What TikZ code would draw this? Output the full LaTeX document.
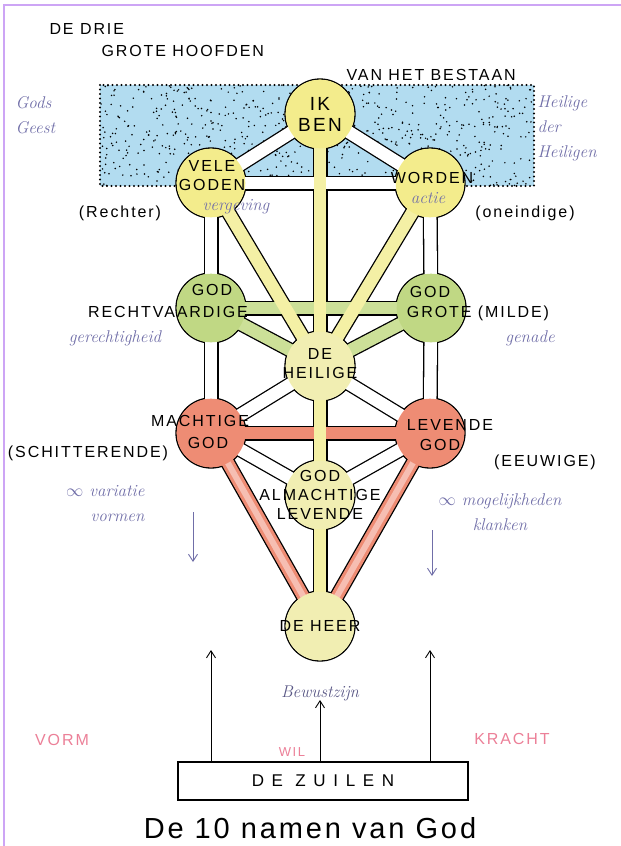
\documentclass[tikz,border=0pt]{standalone}
\usepackage{fontspec}
\usepackage{xcolor}
\usepackage{tikz}
\usetikzlibrary{arrows.meta,positioning,calc}

\newfontfamily\capsfont[LetterSpace=12]{Liberation Sans}
\newfontfamily\wijdfont[LetterSpace=45]{Liberation Sans}
\newfontfamily\titelfont[LetterSpace=10]{Liberation Sans}

\definecolor{sefyel}{RGB}{243,236,140}
\definecolor{sefpale}{RGB}{241,238,178}
\definecolor{sefgrn}{RGB}{192,216,132}
\definecolor{sefred}{RGB}{238,140,116}
\definecolor{pipeyel}{RGB}{244,240,165}
\definecolor{pipegrn}{RGB}{204,224,152}
\definecolor{pipered}{RGB}{238,140,116}
\definecolor{pipepink}{RGB}{246,190,178}
\definecolor{blueback}{RGB}{178,220,240}
\definecolor{inkblue}{RGB}{112,110,168}
\definecolor{pinklab}{RGB}{236,128,152}
\definecolor{framecol}{RGB}{205,165,245}

\begin{document}
\begin{tikzpicture}[x=1pt,y=-1pt,
  caps/.style={font=\capsfont\fontsize{16}{19}\selectfont},
  hand/.style={font=\itshape\fontsize{17}{25}\selectfont,text=inkblue},
  pinktxt/.style={font=\capsfont\fontsize{16}{18}\selectfont,text=pinklab},
  sefira/.style={circle,minimum size=70pt,inner sep=0pt},
  arr/.style={-{Straight Barb[length=7pt,width=9pt]},line width=0.9pt}]
  \useasboundingbox (0,0) rectangle (621,846);
  \fill[white] (0,0) rectangle (621,846);
  \draw[framecol,line width=1.5pt] (4,846) -- (4,5) -- (621,5);

  % blauw veld achter de drie hoofden
  \fill[blueback] (100,85) rectangle (534,186);
  \pgfmathsetseed{11}
  \foreach \i in {1,...,650}
    \fill ({100+434*rnd},{85+101*rnd}) circle (0.85);
  \draw[line width=2.2pt,dash pattern=on 0pt off 4.5pt,line cap=round] (100,85) rectangle (534,186);

  \node[sefira] (ikben) at (320,114) {};
  \node[sefira] (vele) at (211,183) {};
  \node[sefira] (worden) at (430,183) {};
  \node[sefira] (recht) at (211,308) {};
  \node[sefira] (grote) at (431,308) {};
  \node[sefira] (heilige) at (320,366) {};
  \node[sefira] (machtige) at (211,433) {};
  \node[sefira] (levende) at (430,433) {};
  \node[sefira] (almacht) at (320,495) {};
  \node[sefira] (heer) at (320,626) {};

  \foreach \a/\b in {ikben/vele,ikben/worden,vele/worden,vele/recht,worden/grote,
    recht/machtige,grote/levende,heilige/machtige,heilige/levende,machtige/almacht,
    levende/almacht,vele/heilige,worden/heilige,recht/grote,recht/heilige,
    grote/heilige,machtige/levende,machtige/heer,levende/heer,ikben/heer}
    \draw[line width=15pt] (\a.center) -- (\b.center);
  \foreach \n/\c in {ikben/sefyel,vele/sefyel,worden/sefyel,recht/sefgrn,grote/sefgrn,
    heilige/sefpale,machtige/sefred,levende/sefred,almacht/sefpale,heer/sefpale}
    \draw[fill=\c,line width=1.3pt] (\n.center) circle (35);
  \foreach \a/\b/\c in {ikben/vele/white,ikben/worden/white,vele/worden/white,
    vele/recht/white,worden/grote/white,recht/machtige/white,grote/levende/white,
    heilige/machtige/white,heilige/levende/white,machtige/almacht/white,
    levende/almacht/white,recht/grote/pipegrn,recht/heilige/pipegrn,
    grote/heilige/pipegrn,machtige/levende/pipered,machtige/heer/pipered,
    levende/heer/pipered,vele/heilige/pipeyel,worden/heilige/pipeyel,ikben/heer/pipeyel}
    \draw[\c,line width=12.4pt] (\a.center) -- (\b.center);
  % lichtere kern in de rode kanalen
  \foreach \a/\b in {machtige/heer,levende/heer}
    \draw[pipepink,line width=6pt] (\a.center) -- (\b.center);
  \foreach \n/\c in {ikben/sefyel,vele/sefyel,worden/sefyel,recht/sefgrn,grote/sefgrn,
    heilige/sefpale,machtige/sefred,levende/sefred,almacht/sefpale,heer/sefpale}
    \fill[\c] (\n.center) circle (34.3);

  % teksten in de cirkels
  \node[caps,font=\capsfont\fontsize{19}{21}\selectfont,align=center] (ikbentxt) at (ikben) {IK\\BEN};
  \node[caps,align=center] (veletxt) at (212,176) {VELE\\GODEN};
  \node[caps] (wordentxt) at (432,178) {WORDEN};
  \node[caps] (godr) at (212,290) {GOD};
  \node[caps] (rechttxt) at (168,312) {RECHTVAARDIGE};
  \node[caps] (godg) at (430,292) {GOD};
  \node[caps] (grotetxt) at (478,313) {GROTE (MILDE)};
  \node[caps,align=center] (heiligetxt) at (320,364) {DE\\HEILIGE};
  \node[caps] (machtigetxt) at (200,421) {MACHTIGE};
  \node[caps] (godm) at (208,443) {GOD};
  \node[caps] (levendetxt) at (450,425) {LEVENDE};
  \node[caps] (godl) at (440,445) {GOD};
  \node[caps,align=center] (almachttxt) at (320,495) {GOD\\ALMACHTIGE\\LEVENDE};
  \node[caps] (heertxt) at (heer) {DE HEER};

  % koppen en bijschriften
  \node[caps,anchor=west] (drie) at (46,29) {DE DRIE};
  \node[caps,anchor=west] (hoofden) at (98,51) {GROTE HOOFDEN};
  \node[caps,anchor=west] (bestaan) at (343,75) {VAN HET BESTAAN};
  \node[caps] (rechter) at (120,213) {(Rechter)};
  \node[caps] (oneindig) at (525,213) {(oneindige)};
  \node[caps] (schitter) at (88,453) {(SCHITTERENDE)};
  \node[caps] (eeuwig) at (545,462) {(EEUWIGE)};
  \node[hand,align=left,anchor=west] (geest) at (12,115) {Gods\\Geest};
  \node[hand,align=left,anchor=west] (heiligen) at (534,128) {Heilige\\der\\Heiligen};
  \node[hand] (vergeving) at (236,207) {vergeving};
  \node[hand] (actie) at (428,198) {actie};
  \node[hand] (gerecht) at (115,338) {gerechtigheid};
  \node[hand] (genade) at (530,338) {genade};
  \node[hand,align=right,anchor=east] (variatie) at (148,504) {$\infty$ variatie\\vormen};
  \node[hand,align=center] (mogelijk) at (500,512) {$\infty$ mogelijkheden\\klanken};
  \node[hand,text=inkblue!80!black] (bewust) at (320,693) {Bewustzijn};

  \coordinate (vtop) at (193,512);
  \coordinate (vbot) at (193,562);
  \coordinate (ktop) at (432,530);
  \coordinate (kbot) at (432,576);
  \draw[arr,inkblue] (vtop) -- (vbot);
  \draw[arr,inkblue] (ktop) -- (kbot);

  % de zuilen
  \node[draw,line width=1.2pt,minimum width=290pt,minimum height=38pt,
    font=\wijdfont\fontsize{17}{19}\selectfont] (zuilen) at (323,781) {DE ZUILEN};
  \coordinate (vormtip) at (211,650);
  \coordinate (wiltip) at (320,700);
  \coordinate (krachttip) at (430,650);
  \draw[arr] (zuilen.north -| vormtip) -- (vormtip);
  \draw[arr] (zuilen.north -| wiltip) -- (wiltip);
  \draw[arr] (zuilen.north -| krachttip) -- (krachttip);
  \node[pinktxt] (vorm) at (62,740) {VORM};
  \node[pinktxt,font=\capsfont\fontsize{13}{15}\selectfont] (wil) at (292,752) {WIL};
  \node[pinktxt] (kracht) at (512,739) {KRACHT};

  \node[font=\titelfont\fontsize{29}{32}\selectfont] (titel) at (310,828) {De 10 namen van God};
\end{tikzpicture}
\end{document}
